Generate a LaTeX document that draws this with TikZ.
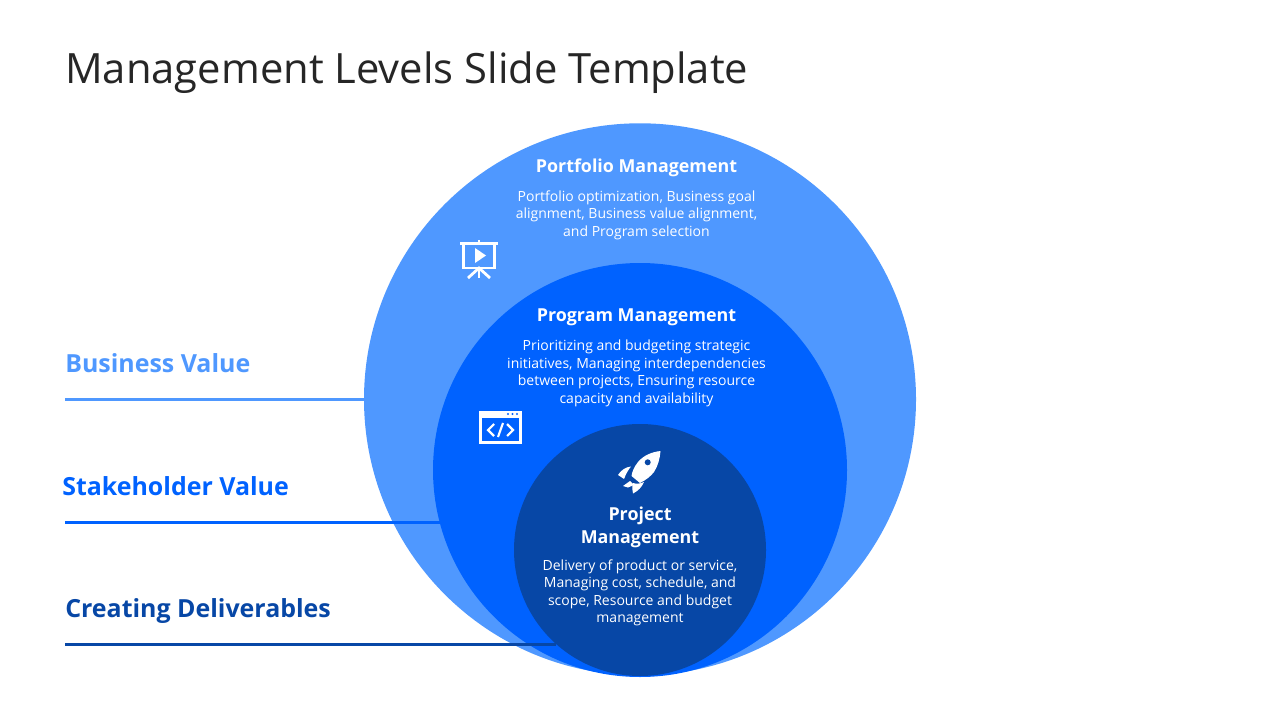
\documentclass[tikz,border=0pt]{standalone}
\usepackage{fontspec}
\setmainfont{Open Sans}
\usetikzlibrary{positioning}

\definecolor{valuelight}{HTML}{4F98FF}
\definecolor{valuemid}{HTML}{0062FF}
\definecolor{valuedark}{HTML}{0747A6}
\definecolor{titlegray}{HTML}{262626}

\tikzset{
  level/.style={circle, inner sep=0pt, outer sep=0pt},
  heading/.style={text=white, align=center, inner sep=0pt, font=\fontsize{13.4}{17.2}\selectfont\bfseries},
  body/.style={text=white, align=center, inner sep=0pt, font=\fontsize{10.5}{13.1}\selectfont},
  valuelabel/.style={anchor=base west, inner sep=0pt, font=\fontsize{18.7}{20}\selectfont\bfseries},
  valueline/.style={line width=2.2pt},
  iconline/.style={draw=white, line width=2.1pt},
  iconfill/.style={fill=white}
}

\begin{document}
\begin{tikzpicture}[x=0.75pt, y=-0.75pt]
\useasboundingbox (0,0) rectangle (1280,720);

\node[anchor=base west, inner sep=0pt, text=titlegray, font=\fontsize{31.3}{38}\selectfont] (title) at (65,83.5) {Management Levels Slide Template};

\node[level, fill=valuelight, minimum size=414pt] (portfolio) at (640,399.3) {};
\node[level, fill=valuemid, minimum size=310.5pt] (program) at (640,470) {};
\node[level, fill=valuedark, minimum size=189pt] (project) at (640,550) {};

\node[heading] (h1) at (636.5,167.5) {Portfolio Management};
\node[body, below=10.3pt of h1] (b1) {Portfolio optimization, Business goal\\alignment, Business value alignment,\\and Program selection};
\node[heading] (h2) at (636.5,317) {Program Management};
\node[body, below=10.6pt of h2] (b2) {Prioritizing and budgeting strategic\\initiatives, Managing interdependencies\\between projects, Ensuring resource\\capacity and availability};
\node[heading] (h3) at (640,527) {Project\\Management};
\node[body, below=8.8pt of h3] (b3) {Delivery of product or service,\\Managing cost, schedule, and\\scope, Resource and budget\\management};

\node[valuelabel, text=valuelight] (v1) at (65,372.5) {Business Value};
\node[valuelabel, text=valuemid] (v2) at (62,495) {Stakeholder Value};
\node[valuelabel, text=valuedark] (v3) at (65,617.5) {Creating Deliverables};

\coordinate (s1) at (65,399.3);
\coordinate (s2) at (65,522.3);
\coordinate (s3) at (65,644.3);
\draw[valueline, draw=valuelight] (s1) -- (portfolio.west);
\draw[valueline, draw=valuemid] (s2) -- (s2 -| program.195);
\draw[valueline, draw=valuedark] (s3) -- (s3 -| project.228);

% screen icon
\draw[iconline] (460,243.5) -- (498,243.5);
\draw[iconline] (479,240) -- (479,243);
\draw[iconline] (463.5,243.5) rectangle (494.5,268);
\draw[iconline] (468,278) -- (479,268) -- (490,278);
\draw[iconline] (479,268) -- (479,278);
\fill[iconfill] (475,248) -- (486,255.5) -- (475,263) -- cycle;

% code icon
\fill[iconfill] (479,411) rectangle (522,444);
\fill[valuemid] (482,418) rectangle (519,441);
\foreach \dx in {508,512.5,517} {
  \fill[valuemid] (\dx,414) circle (1.1);
}
\draw[iconline, line width=1.6pt] (494,424) -- (488,430) -- (494,436);
\draw[iconline, line width=1.6pt] (507,424) -- (513,430) -- (507,436);
\draw[iconline, line width=1.6pt] (503,423) -- (498,437);

% rocket icon
\fill[iconfill] (660.5,451) .. controls (652,452) and (644,455) .. (638,462) .. controls (634,467) and (632,472) .. (631.5,476) -- (640,483) .. controls (646,480) and (651,476) .. (654,472) .. controls (658,466) and (660,458) .. (660.5,451) -- cycle;
\fill[valuedark] (647.7,462.3) circle (3);
\fill[iconfill] (618,475) .. controls (621,470) and (626,467) .. (631,466.5) .. controls (628,470) and (626,474) .. (624,479) -- cycle;
\fill[iconfill] (633,493.5) .. controls (638,491) and (642,487) .. (644,482) .. controls (640,484) and (636,484) .. (633,483) .. controls (632,487) and (632,490) .. (633,493.5) -- cycle;
\fill[iconfill] (623,486) -- (630,481) -- (634,485) -- (628,487.5) -- cycle;
\end{tikzpicture}
\end{document}
